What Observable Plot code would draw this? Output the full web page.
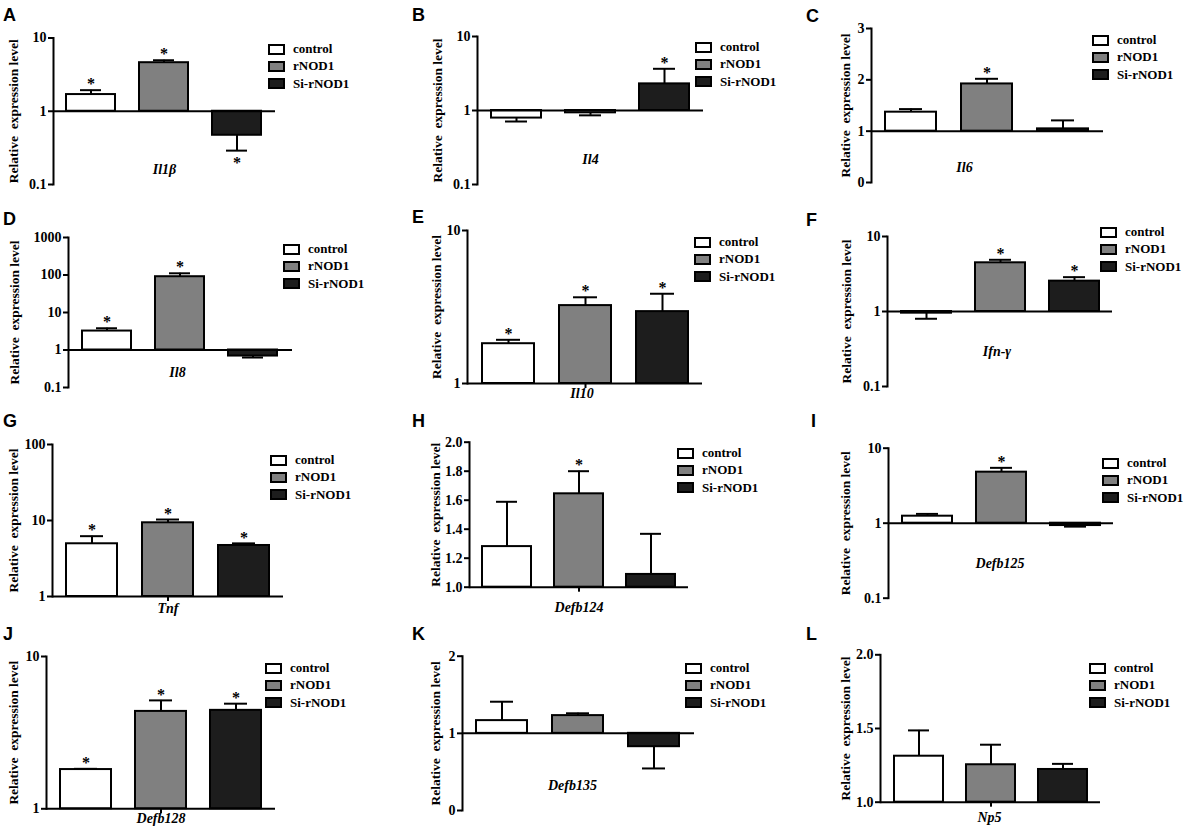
<!DOCTYPE html>
<html><head><meta charset="utf-8">
<script src="https://cdn.jsdelivr.net/npm/d3@7"></script>
<script src="https://cdn.jsdelivr.net/npm/@observablehq/plot@0.6"></script>
<style>
body{margin:0;background:#fff;}
#root{position:relative;width:1192px;height:835px;overflow:hidden;background:#fff;}
.panel{position:absolute;}
.panel svg{overflow:visible;}
.letter{position:absolute;font:bold 18px "Liberation Sans",Arial,sans-serif;line-height:18px;color:#000;}
.legend{position:absolute;font-family:"Liberation Serif","Times New Roman","DejaVu Serif",serif;font-weight:bold;font-size:13px;color:#000;}
.legend .box{position:absolute;width:17px;height:11px;box-sizing:border-box;border:2px solid #000;}
.legend .lab{position:absolute;line-height:15px;white-space:nowrap;}
</style></head><body><div id="root"></div>
<script>
// ---------- data ----------
const groups = ["control", "rNOD1", "Si-rNOD1"];
const panelLetters = ["A","B","C","D","E","F","G","H","I","J","K","L"];
const genes = ["Il1β","Il4","Il6","Il8","Il10","Ifn-γ","Tnf","Defb124","Defb125","Defb128","Defb135","Np5"];
const yLabel = "Relative  expression level";
// mean relative expression per gene (control, rNOD1, Si-rNOD1)
const means = [
  [1.69, 4.6, 0.47],
  [0.79, 0.93, 2.29],
  [1.37, 1.92, 1.045],
  [3.2, 90, 0.69],
  [1.82, 3.23, 2.95],
  [0.95, 4.46, 2.54],
  [4.94, 9.33, 4.69],
  [1.28, 1.644, 1.088],
  [1.24, 4.79, 0.93],
  [1.81, 4.36, 4.43],
  [1.165, 1.23, 0.827],
  [1.312, 1.254, 1.222]
];
// error (SEM) per gene
const sems = [
  [0.25, 0.37, 0.18],
  [0.08, 0.07, 1.37],
  [0.06, 0.10, 0.165],
  [0.6, 21, 0.06],
  [0.11, 0.43, 0.91],
  [0.15, 0.43, 0.33],
  [1.28, 0.97, 0.31],
  [0.309, 0.156, 0.28],
  [0.09, 0.68, 0.03],
  [0.02, 0.79, 0.47],
  [0.245, 0.03, 0.282],
  [0.175, 0.136, 0.038]
];
// significance marks
const stars = [
  [1,1,1],[0,0,1],[0,1,0],[1,1,0],[1,1,1],[0,1,1],
  [1,1,1],[0,1,0],[0,1,0],[1,1,1],[0,0,0],[0,0,0]
];
const yTypes = ["log","log","linear","log","log","log","log","linear","log","log","linear","linear"];
const yDomains = [[0.1,10],[0.1,10],[0,3],[0.1,1000],[1,10],[0.1,10],[1,100],[1,2],[0.1,10],[1,10],[0,2],[1,2]];
const yTicks = [[0.1,1,10],[0.1,1,10],[0,1,2,3],[0.1,1,10,100,1000],[1,10],[0.1,1,10],[1,10,100],
  [1,1.2,1.4,1.6,1.8,2],[0.1,1,10],[1,10],[0,1,2],[1,1.5,2]];
const tickFormats = ["plain","plain","plain","plain","plain","plain","plain","fixed1","plain","plain","plain","fixed1"];
const baseline = 1;

// ---------- styles & layout ----------
const groupColors = ["#ffffff", "#808080", "#1d1d1d"];
const layout = [
  {ox:0,   oy:0,   ax:53,  xe:275,  yt:37.5,  yb:184,   ldx:-40, gdy:-11, gdx:0,   lx:268,  ly:49,  cx:3,   cy:6,   tick:false},
  {ox:390, oy:0,   ax:477, xe:703,  yt:36,    yb:184,   ldx:-40, gdy:-21, gdx:0,   lx:695,  ly:47,  cx:412, cy:6,   tick:false},
  {ox:790, oy:0,   ax:871, xe:1103, yt:28,    yb:182,   ldx:-26, gdy:-11, gdx:-23, lx:1092, ly:40,  cx:806, cy:7,   tick:false},
  {ox:0,   oy:200, ax:68,  xe:292,  yt:237,   yb:387,   ldx:-54, gdy:-11, gdx:-3,  lx:283,  ly:249, cx:3,   cy:210, tick:false},
  {ox:390, oy:200, ax:467, xe:702,  yt:230,   yb:383,   ldx:-31, gdy:14,  gdx:-3,  lx:694,  ly:242, cx:412, cy:208, tick:true},
  {ox:790, oy:200, ax:887, xe:1112, yt:236,   yb:386,   ldx:-41, gdy:-31, gdx:-3,  lx:1100, ly:232, cx:806, cy:211, tick:false},
  {ox:0,   oy:410, ax:52,  xe:283,  yt:444,   yb:596,   ldx:-39, gdy:16,  gdx:0,   lx:270,  ly:460, cx:3,   cy:412, tick:true},
  {ox:390, oy:410, ax:469, xe:688,  yt:441.7, yb:586.7, ldx:-34, gdy:25,  gdx:0,   lx:677,  ly:453, cx:412, cy:412, tick:true},
  {ox:790, oy:410, ax:888, xe:1113, yt:447.7, yb:597.7, ldx:-43, gdy:-30, gdx:-1,  lx:1102, ly:463, cx:811, cy:412, tick:false},
  {ox:0,   oy:625, ax:46,  xe:275,  yt:656,   yb:808.3, ldx:-33, gdy:14,  gdx:0,   lx:265,  ly:668, cx:3,   cy:625, tick:true},
  {ox:390, oy:625, ax:462, xe:694,  yt:655.7, yb:810,   ldx:-27, gdy:-21, gdx:-6,  lx:685,  ly:668, cx:412, cy:625, tick:false},
  {ox:790, oy:625, ax:880, xe:1100, yt:654.3, yb:801.7, ldx:-35, gdy:20,  gdx:-1,  lx:1089, ly:668, cx:806, cy:625, tick:true}
];
const serifFont = "'Liberation Serif','Times New Roman','DejaVu Serif',serif";
const svgStyle = "font-family:" + serifFont + ";font-size:13px;font-weight:bold;color:#000;background:transparent;overflow:visible;";
const root = document.getElementById("root");

genes.forEach((gene, p) => {
  const L = layout[p];
  const rows = groups.map((g, i) => {
    const m = means[p][i], s = sems[p][i];
    return {group: g, mean: m, base: baseline, end: m >= baseline ? m + s : m - s, up: m >= baseline, sig: stars[p][i] === 1};
  });
  const fmt = tickFormats[p] === "fixed1" ? d3.format(".1f") : d => String(d);
  const mr = 2, mb = 36;
  const marks = [
    Plot.ruleX(rows, {x: "group", y1: "mean", y2: "end", stroke: "#000", strokeWidth: 2}),
    Plot.barY(rows, {x: "group", y1: "base", y2: "mean", fill: "group", stroke: "#000", strokeWidth: 2}),
    Plot.tickY(rows, {x: "group", y: "end", stroke: "#000", strokeWidth: 2, insetLeft: 14, insetRight: 14}),
    Plot.ruleY([baseline], {stroke: "#000", strokeWidth: 2}),
    Plot.frame({anchor: "left", stroke: "#000", strokeWidth: 2}),
    Plot.axisY({ticks: yTicks[p], tickFormat: fmt, tickSize: 5, tickPadding: 2, stroke: "#000", strokeWidth: 2, label: null, fontSize: 14, fontFamily: serifFont, fontWeight: "bold"}),
    Plot.text(rows.filter(d => d.sig && d.up), {x: "group", y: "end", text: () => "*", dy: -6, fontSize: 16, fontFamily: serifFont, fontWeight: "bold"}),
    Plot.text(rows.filter(d => d.sig && !d.up), {x: "group", y: "end", text: () => "*", dy: 12, fontSize: 16, fontFamily: serifFont, fontWeight: "bold"}),
    Plot.text([gene], {frameAnchor: "bottom", text: d => d, dy: L.gdy, dx: L.gdx, fontStyle: "italic", fontSize: 14, fontFamily: serifFont, fontWeight: "bold"}),
    Plot.text([yLabel], {frameAnchor: "left", textAnchor: "middle", text: d => d, rotate: -90, dx: L.ldx, fontSize: 13.5, fontFamily: serifFont, fontWeight: "bold"})
  ];
  if (L.tick) marks.push(Plot.axisX({ticks: [groups[1]], tickFormat: () => "", tickSize: 5, stroke: "#000", strokeWidth: 2, label: null}));
  const chart = Plot.plot({
    width: L.xe - L.ox + mr,
    height: L.yb - L.oy + mb,
    marginTop: L.yt - L.oy,
    marginLeft: L.ax - L.ox,
    marginRight: mr,
    marginBottom: mb,
    style: svgStyle,
    x: Object.assign({type: "band", domain: groups, paddingInner: 0.325, paddingOuter: 0.18}, L.tick ? {} : {axis: null}),
    y: {type: yTypes[p], domain: yDomains[p]},
    color: {type: "ordinal", domain: groups, range: groupColors},
    marks
  });
  const wrap = document.createElement("div");
  wrap.className = "panel";
  wrap.style.left = L.ox + "px";
  wrap.style.top = L.oy + "px";
  wrap.appendChild(chart);
  root.appendChild(wrap);

  // legend
  const lg = document.createElement("div");
  lg.className = "legend";
  lg.style.left = L.lx + "px";
  lg.style.top = L.ly + "px";
  groups.forEach((g, i) => {
    const cy = i * 17.3;
    const b = document.createElement("div");
    b.className = "box";
    b.style.left = "0px"; b.style.top = (cy - 5.5) + "px";
    b.style.background = groupColors[i];
    const t = document.createElement("div");
    t.className = "lab";
    t.style.left = "25px"; t.style.top = (cy - 8) + "px";
    t.textContent = g;
    lg.appendChild(b); lg.appendChild(t);
  });
  root.appendChild(lg);

  // panel letter
  const lt = document.createElement("div");
  lt.className = "letter";
  lt.style.left = L.cx + "px";
  lt.style.top = L.cy + "px";
  lt.textContent = panelLetters[p];
  root.appendChild(lt);
});
</script></body></html>
